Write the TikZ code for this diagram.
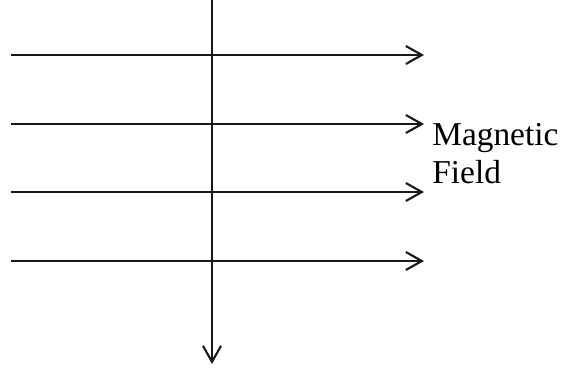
\documentclass[tikz,border=0pt]{standalone}
\usepackage{fontspec}
\setmainfont{Liberation Serif}
\usetikzlibrary{arrows.meta,positioning}
\tikzset{
  >={Straight Barb[length=3.2mm,width=3.6mm,line width=1.2pt]},
  fieldline/.style={->,line width=1.3pt,draw=black!90},
  label/.style={font=\fontsize{19}{21.6}\selectfont,align=left,inner sep=0pt}
}
\begin{document}
\begin{tikzpicture}[x=0.02cm,y=-0.02cm]
  \useasboundingbox (0,0) rectangle (564,369);
  % field lines
  \foreach \i/\y in {1/55,2/124,3/192,4/261}{
    \coordinate (s\i) at (11,\y);
    \coordinate (e\i) at (424,\y);
    \draw[fieldline] (s\i) -- (e\i);
  }
  % the wire
  \coordinate (top) at (212,0);
  \coordinate (bot) at (212,364);
  \draw[fieldline] (top) -- (bot);
  \node[label,anchor=base west] (mf) at (432,183) {Magnetic\\Field};
\end{tikzpicture}
\end{document}
